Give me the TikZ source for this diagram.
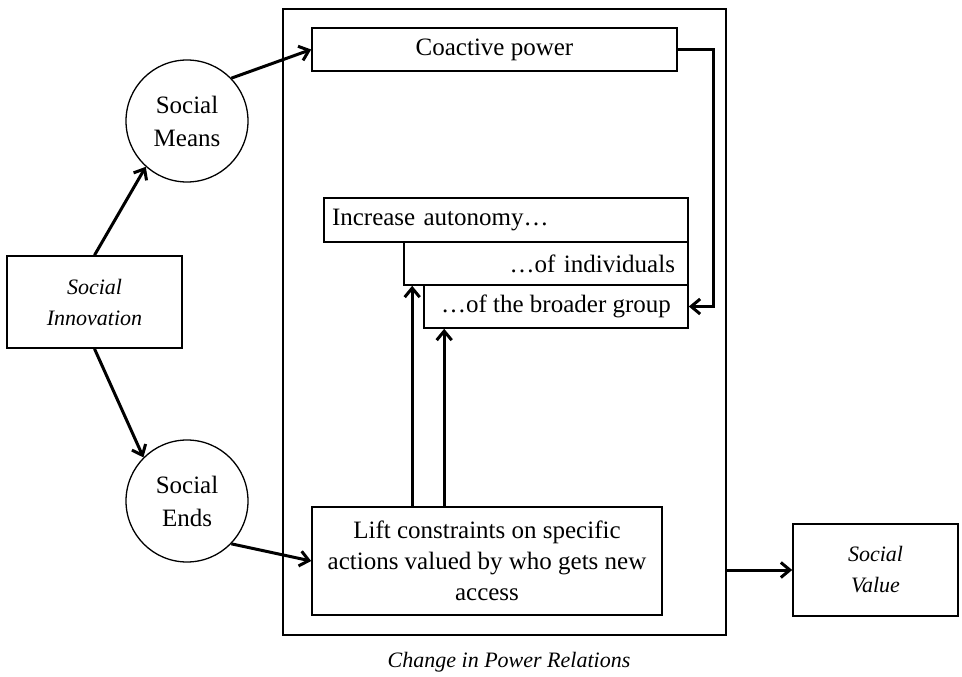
\documentclass[tikz,border=0pt]{standalone}
\usepackage{fontspec}
\setmainfont{Liberation Serif}
\usetikzlibrary{arrows.meta,calc}
\begin{document}
\begin{tikzpicture}[x=1pt,y=-1pt,
  box/.style={draw,line width=1.6pt,inner sep=0pt,font=\fontsize{25}{31}\selectfont,align=center},
  ibox/.style={draw,line width=1.6pt,inner sep=0pt,font=\fontsize{22}{31}\selectfont\itshape,align=center},
  circ/.style={draw,line width=1.3pt,circle,inner sep=0pt,minimum size=122pt,font=\fontsize{25}{33}\selectfont,align=center},
  arr/.style={line width=3pt,-{Straight Barb[length=9pt,width=15pt,line width=3pt]}}]
\useasboundingbox (0,0) rectangle (962,677);
\node[draw,line width=1.6pt,inner sep=0pt,minimum width=443pt,minimum height=626pt] (outer) at (504.5,322) {};
\node[font=\fontsize{22}{26}\selectfont\itshape] (cap) at (509,662) {Change in Power Relations};
\node[box,minimum width=365pt,minimum height=43pt] (coact) at (494.5,49.5) {Coactive power};
\node[box,minimum width=364pt,minimum height=44pt,text width=348pt,inner xsep=8pt,align=left] (incr) at (506,220) {Increase autonomy…};
\node[box,minimum width=284pt,minimum height=43pt,text width=258pt,inner xsep=13pt,align=right] (indiv) at (546,263.5) {…of individuals};
\node[box,minimum width=264pt,minimum height=43pt] (broad) at (556,306.5) {…of the broader group};
\node[box,minimum width=350pt,minimum height=108pt] (lift) at (487,561) {Lift constraints on specific\\actions valued by who gets new\\access};
\node[ibox,minimum width=165pt,minimum height=92pt] (value) at (875.5,570) {Social\\Value};
\node[ibox,minimum width=175pt,minimum height=92pt] (innov) at (94.5,302) {Social\\Innovation};
\node[circ] (means) at (187,121) {Social\\Means};
\node[circ] (ends) at (187,501) {Social\\Ends};
\draw[arr] (innov.north) -- (means.228);
\draw[arr] (means.44) -- (coact.west);
\draw[arr] (innov.south) -- (ends.135);
\draw[arr] (ends.316) -- (lift.west);
\draw[arr] (outer.east |- value.west) -- (value.west);
\draw[arr] (coact.east) -- ++(36,0) |- (broad.east);
\draw[arr] ([xshift=9pt]indiv.south west |- lift.north) -- ([xshift=9pt]indiv.south west);
\draw[arr] ([xshift=21pt]broad.south west |- lift.north) -- ([xshift=21pt]broad.south west);
\end{tikzpicture}
\end{document}
